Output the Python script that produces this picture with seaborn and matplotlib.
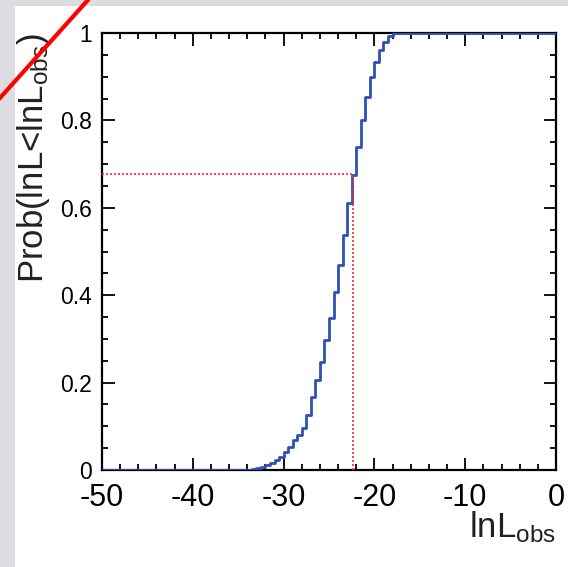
import numpy as np
import pandas as pd
import matplotlib
matplotlib.use("Agg")
import matplotlib.pyplot as plt
import seaborn as sns
from matplotlib.ticker import MultipleLocator, FuncFormatter
from matplotlib.patches import Rectangle
from matplotlib.lines import Line2D

# ---- data ----
lnL_edges = [-50, -34, -33.5, -33, -32.5, -32, -31.5, -31, -30.5, -30, -29.5,
             -29, -28.5, -28, -27.5, -27, -26.5, -26, -25.5, -25, -24.5, -24,
             -23.5, -23, -22.5, -22, -21.5, -21, -20.5, -20, -19.5, -19, -18.5,
             -18, 0]
prob = [0.0, 0.001, 0.003, 0.005, 0.008, 0.012, 0.017, 0.023, 0.030, 0.042,
        0.053, 0.069, 0.080, 0.095, 0.126, 0.168, 0.206, 0.246, 0.297, 0.347,
        0.408, 0.469, 0.538, 0.610, 0.675, 0.740, 0.801, 0.854, 0.900, 0.934,
        0.961, 0.980, 0.992, 1.0, 1.0]
lnL_obs = -22.32
prob_obs = 0.677
x_ticks = [-50, -40, -30, -20, -10, 0]
y_ticks = [0, 0.2, 0.4, 0.6, 0.8, 1.0]

sns.set_theme(style="ticks")
plt.rcParams["font.family"] = ["Liberation Sans", "DejaVu Sans"]
plt.rcParams["mathtext.fontset"] = "custom"
plt.rcParams["mathtext.rm"] = "Liberation Sans"
plt.rcParams["mathtext.it"] = "Liberation Sans:italic"
plt.rcParams["mathtext.bf"] = "Liberation Sans:bold"
plt.rcParams["axes.unicode_minus"] = False

W, H = 568, 567
fig = plt.figure(figsize=(W / 100, H / 100), dpi=100, facecolor="#dcdce1")
fig.patches.append(Rectangle((15 / W, 0), 1, 1 - 6 / H, transform=fig.transFigure,
                             facecolor="white", edgecolor="none", zorder=-10))

ax = fig.add_axes([102 / W, 97 / H, 454 / W, 437 / H])
ax.set_facecolor("white")

df = pd.DataFrame({"lnL": lnL_edges, "prob": prob})
sns.lineplot(data=df, x="lnL", y="prob", drawstyle="steps-post", estimator=None,
             color="#2f50b4", lw=2.0, ax=ax, zorder=3)

dot = (0, (1.2, 1.2))
ax.plot([-50, lnL_obs], [prob_obs, prob_obs], color="#ff2a2a", lw=1.2, ls=dot, zorder=4)
ax.plot([lnL_obs, lnL_obs], [0, prob_obs], color="#ff2a2a", lw=1.2, ls=dot, zorder=4)

ax.set_xlim(-50, 0)
ax.set_ylim(0, 1)
ax.set_xticks(x_ticks)
ax.set_yticks(y_ticks)
ax.xaxis.set_minor_locator(MultipleLocator(2))
ax.yaxis.set_minor_locator(MultipleLocator(0.05))
fmt = FuncFormatter(lambda v, _: f"{v:g}")
ax.xaxis.set_major_formatter(fmt)
ax.yaxis.set_major_formatter(fmt)

ax.tick_params(which="both", direction="in", top=True, right=True,
               width=1.3, colors="black")
ax.tick_params(which="major", length=9)
ax.tick_params(which="minor", length=4.5)
ax.tick_params(axis="x", which="major", labelsize=22, pad=9)
ax.tick_params(axis="y", which="major", labelsize=16.5, pad=7)
for s in ax.spines.values():
    s.set_linewidth(1.6)
    s.set_color("black")

ax.set_xlabel(r"lnL$_{\mathrm{obs}}$", fontsize=25, loc="right", color="#222222")
ax.xaxis.set_label_coords(1.0, -0.09)
ax.set_ylabel(r"Prob(lnL<lnL$_{\mathrm{obs}}$)", fontsize=25, loc="top", color="#222222")
ax.yaxis.set_label_coords(-0.11, 1.0)

fig.add_artist(Line2D([-0.02, 0.17], [0.805, 1.017], transform=fig.transFigure,
                      color="red", lw=3, zorder=10))

fig.savefig("out.png", dpi=100, facecolor=fig.get_facecolor())
